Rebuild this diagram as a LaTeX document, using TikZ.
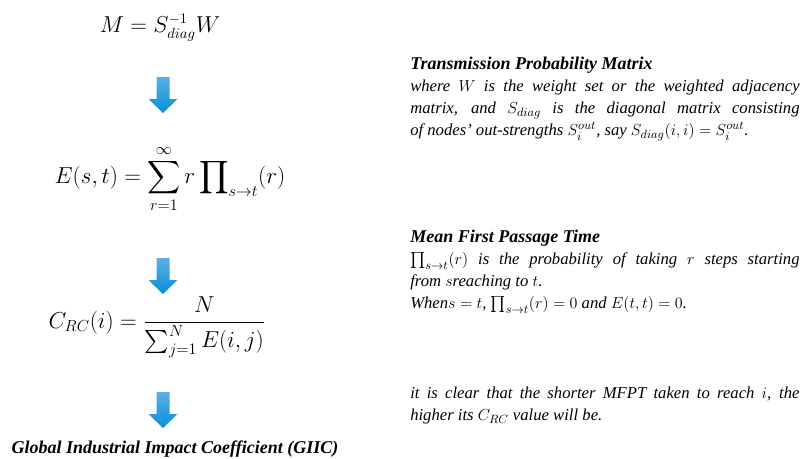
\documentclass[tikz,border=0pt]{standalone}
\usepackage{amsmath}
\usepackage{fontspec}
\setmainfont{Liberation Serif}[
  BoldFont={Liberation Serif Bold},
  ItalicFont={Liberation Serif Italic},
  BoldItalicFont={Liberation Serif Bold Italic}]
\newcommand\ttlfont{\fontsize{13.5}{16.5}\selectfont\bfseries\itshape}
\begin{document}
\begin{tikzpicture}[x=0.75pt,y=-0.75pt,
  eq/.style={inner sep=0pt, font=\fontsize{16}{19}\selectfont},
  para/.style={anchor=north west, inner sep=0pt, text width=292pt, align=justify,
    font=\fontsize{12.5}{16.5}\selectfont\itshape},
  ttl/.style={font=\ttlfont},
  bluearrow/.pic={\shade[top color=arrowtop, bottom color=arrowbot]
    (-6.5,0) -- (6.5,0) -- (6.5,22) -- (14.5,22) -- (0,36) -- (-14.5,22) -- (-6.5,22) -- cycle;}
]
\definecolor{arrowtop}{HTML}{5AAFE6}
\definecolor{arrowbot}{HTML}{0790D6}
\useasboundingbox (0,0) rectangle (802,458);

\node[eq] (m) at (160,28) {$M = S_{diag}^{-1}W$};
\pic at (163,77) {bluearrow};
\node[eq, font=\fontsize{17}{20}\selectfont] (e) at (170,179) {$\displaystyle E(s,t) = \sum_{r=1}^{\infty} r \prod\nolimits_{s\to t}(r)$};
\pic at (163,258) {bluearrow};
\node[eq, font=\fontsize{16.5}{19}\selectfont] (c) at (157,327) {$\displaystyle C_{RC}(i) = \frac{N}{\sum_{j=1}^{N} E(i,j)}$};
\pic at (163,392) {bluearrow};
\node[inner sep=0pt, ttl] (g) at (175,449) {Global Industrial Impact Coefficient (GIIC)};

\node[para] (t1) at (410,57) {{\ttlfont Transmission Probability Matrix}\\
where $W$ is the weight set or the weighted adjacency\linebreak matrix, and $S_{diag}$ is the diagonal matrix consisting\linebreak of nodes' out-strengths $S_i^{out}$, say $S_{diag}(i,i)=S_i^{out}$.};

\node[para] (t2) at (410,230) {{\ttlfont Mean First Passage Time}\\
$\prod_{s\to t}(r)$ is the probability of taking $r$ steps starting\linebreak from $s$reaching to $t$.\\
When$s=t$, $\prod_{s\to t}(r)=0$ and $E(t,t)=0$.};

\node[para] (t3) at (410,387) {it is clear that the shorter MFPT taken to reach $i$, the\linebreak higher its $C_{RC}$ value will be.};
\end{tikzpicture}
\end{document}
